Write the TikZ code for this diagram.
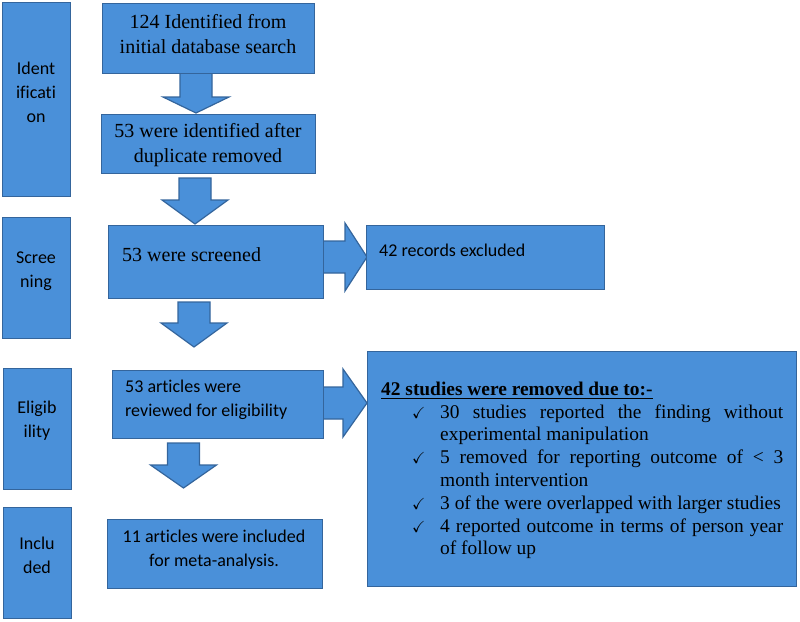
\documentclass[tikz,border=0pt]{standalone}
\usepackage{fontspec}
\setmainfont{Liberation Serif}
\newfontfamily\calfont[Ligatures=NoCommon]{Carlito}
\usepackage{amssymb}
\usetikzlibrary{calc}
\definecolor{boxblue}{RGB}{74,144,217}
\definecolor{boxedge}{RGB}{52,101,156}
\newcommand\serifT{\fontsize{20}{25}\selectfont}
\newcommand\calT{\calfont\fontsize{18}{24}\selectfont}
\newcommand\bigT{\fontsize{19.4}{22.8}\selectfont}
\newcommand\downblk[3]{%
  \draw[blk] ($(#1)+(-16,0)$) -- ($(#2)+(-16,-#3)$) -- ($(#2)+(-33,-#3)$) -- (#2)
    -- ($(#2)+(33,-#3)$) -- ($(#2)+(16,-#3)$) -- ($(#1)+(16,0)$) -- cycle;}
\newcommand\rightblk[3]{%
  \draw[blk] ($(#1)+(0,-16)$) -- ($(#2)+(-#3,-16)$) -- ($(#2)+(-#3,-34)$) -- (#2)
    -- ($(#2)+(-#3,34)$) -- ($(#2)+(-#3,16)$) -- ($(#1)+(0,16)$) -- cycle;}
\newcommand\itemline[1]{\makebox[28pt][l]{\fontsize{16}{16}\selectfont$\checkmark$}\parbox[t]{343pt}{\bigT\hyphenpenalty=10000 #1}}
\begin{document}
\begin{tikzpicture}[x=1pt,y=-1pt,
  blk/.style={fill=boxblue,draw=boxedge,line width=1.2pt},
  rbox/.style={blk,anchor=north west,inner sep=0pt},
  ttxt/.style={inner sep=0pt,align=center,font=\serifT},
  ctxt/.style={inner sep=0pt,align=center,font=\calT},
  ltxt/.style={inner sep=0pt,align=left,font=\calT}]
\useasboundingbox (0,0) rectangle (800,621);
% arrows (drawn under boxes)
\coordinate (a1s) at (196,73);  \coordinate (a1e) at (196,113);
\coordinate (a2s) at (195,178); \coordinate (a2e) at (195,224);
\coordinate (a3s) at (194,302); \coordinate (a3e) at (194,347);
\coordinate (a4s) at (183.5,443); \coordinate (a4e) at (183.5,488);
\coordinate (r1s) at (323,257); \coordinate (r1e) at (367,257);
\coordinate (r2s) at (323,403); \coordinate (r2e) at (367,403);
\downblk{a1s}{a1e}{16}
\downblk{a2s}{a2e}{24}
\downblk{a3s}{a3e}{24}
\downblk{a4s}{a4e}{23}
\rightblk{r1s}{r1e}{22}
\rightblk{r2s}{r2e}{24}
% stage boxes
\node[rbox,minimum width=68,minimum height=194] (idl) at (2,2) {};
\node[rbox,minimum width=68,minimum height=121] (scl) at (2,217) {};
\node[rbox,minimum width=68,minimum height=121] (ell) at (3,368) {};
\node[rbox,minimum width=68,minimum height=111] (inl) at (3,507) {};
\node[ctxt] (idt) at (36,92) {Ident\\ificati\\on};
\node[ctxt] (sct) at (36,271) {Scree\\ning};
\node[ctxt] (elt) at (37,421) {Eligib\\ility};
\node[ctxt] (int) at (37,555) {Inclu\\ded};
% flow boxes
\node[rbox,minimum width=212,minimum height=70] (b1) at (102,3) {};
\node[rbox,minimum width=214,minimum height=59] (b2) at (101,114) {};
\node[rbox,minimum width=215,minimum height=73] (b3) at (108,225) {};
\node[rbox,minimum width=238,minimum height=64] (b4) at (366,225) {};
\node[rbox,minimum width=211,minimum height=68] (b5) at (112,370) {};
\node[rbox,minimum width=215,minimum height=69] (b6) at (107,519) {};
\node[rbox,minimum width=429,minimum height=235] (big) at (367,351) {};
\node[ttxt] (b1t) at (208,34) {124 Identified from\\initial database search};
\node[ttxt] (b2t) at (208,145) {53 were identified after\\duplicate removed};
\node[ttxt,anchor=west] (b3t) at (122,255) {53 were screened};
\node[ltxt,anchor=west] (b4t) at (379,250) {42 records excluded};
\node[ltxt,anchor=west] (b5t) at (125,400) {53 articles were\\reviewed for eligibility};
\node[ctxt] (b6t) at (214,550) {11 articles were included\\for meta-analysis.};
% removal reasons
\node[inner sep=0pt,anchor=base west,font=\bigT\bfseries] (ttl) at (381,395) {\underline{42 studies were removed due to:-}};
\node[inner sep=0pt,anchor=base west] (it1) at (412,418) {\itemline{30 studies reported the finding without experimental manipulation}};
\node[inner sep=0pt,anchor=base west] (it2) at (412,463.6) {\itemline{5 removed for reporting outcome of < 3 month intervention}};
\node[inner sep=0pt,anchor=base west] (it3) at (412,509.2) {\itemline{3 of the were overlapped with larger studies}};
\node[inner sep=0pt,anchor=base west] (it4) at (412,532) {\itemline{4 reported outcome in terms of person year of follow up}};
\end{tikzpicture}
\end{document}
